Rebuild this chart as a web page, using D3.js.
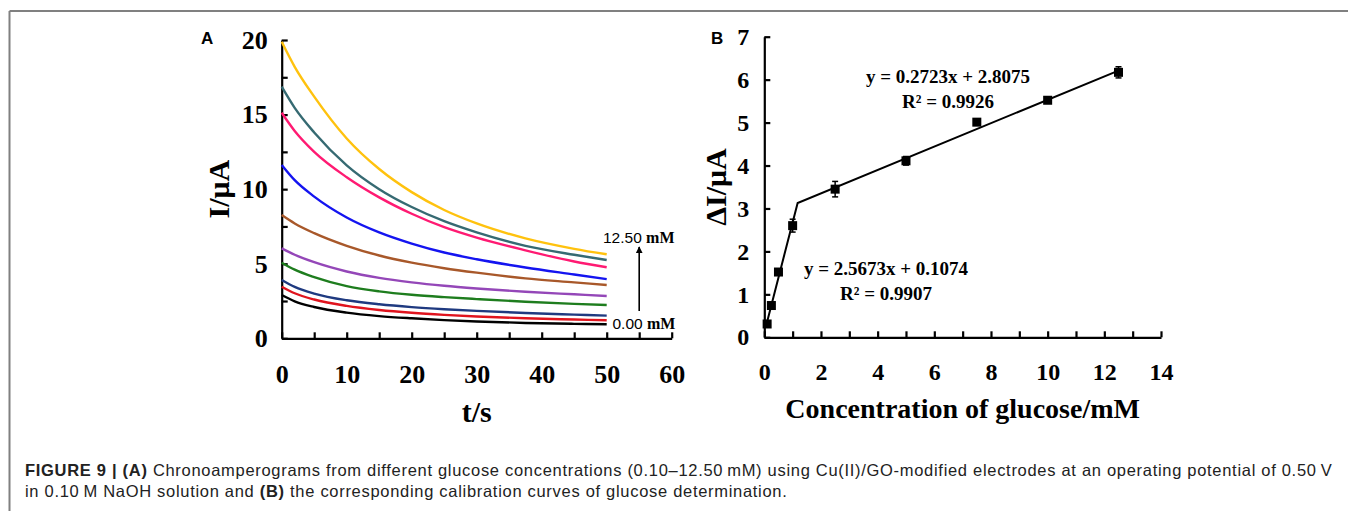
<!DOCTYPE html>
<html>
<head>
<meta charset="utf-8">
<script src="https://cdn.jsdelivr.net/npm/d3@7"></script>
<style>
  html, body { margin: 0; padding: 0; background: #fff; }
  svg { display: block; }
  .serif { font-family: "Liberation Serif", "Times New Roman", serif; font-weight: bold; }
  .sans { font-family: "Liberation Sans", Arial, sans-serif; }
</style>
</head>
<body>
<svg id="fig" width="1348" height="511"></svg>
<script>
// ---- Panel A: chronoamperograms (time in s, current in µA) ----
const timeA = [0, 2, 5, 10, 15, 20, 25, 30, 37.5, 45, 50];
const curve0_00 = [2.90, 2.48, 2.10, 1.72, 1.49, 1.34, 1.22, 1.13, 1.03, 0.97, 0.94];
const curve0_10 = [3.46, 3.02, 2.60, 2.17, 1.90, 1.71, 1.57, 1.46, 1.34, 1.26, 1.21];
const curve0_25 = [3.91, 3.45, 3.00, 2.55, 2.28, 2.09, 1.95, 1.84, 1.70, 1.59, 1.52];
const curve0_50 = [5.07, 4.60, 4.10, 3.50, 3.15, 2.92, 2.76, 2.63, 2.45, 2.31, 2.23];
const curve1_00 = [6.03, 5.60, 5.10, 4.48, 4.05, 3.75, 3.52, 3.34, 3.12, 2.95, 2.84];
const curve2_50 = [8.26, 7.70, 7.05, 6.20, 5.55, 5.07, 4.70, 4.40, 4.02, 3.75, 3.57];
const curve5_00 = [11.62, 10.60, 9.50, 8.10, 7.10, 6.35, 5.75, 5.30, 4.75, 4.28, 3.97];
const curve7_50 = [15.12, 13.90, 12.50, 10.80, 9.45, 8.35, 7.45, 6.75, 5.90, 5.15, 4.76];
const curve10_0 = [16.87, 15.45, 13.80, 11.60, 10.00, 8.80, 7.85, 7.10, 6.20, 5.60, 5.25];
const curve12_5 = [19.88, 18.20, 16.20, 13.40, 11.35, 9.80, 8.60, 7.70, 6.70, 6.00, 5.63];
const curvesA = [curve0_00, curve0_10, curve0_25, curve0_50, curve1_00,
                 curve2_50, curve5_00, curve7_50, curve10_0, curve12_5];
const coloursA = ["#000000", "#e0141e", "#1f3a80", "#1e7d1e", "#9447b8",
                  "#a8582a", "#1414f0", "#ff1a72", "#366a72", "#ffc20e"];
const xTicksA = [0, 5, 10, 15, 20, 25, 30, 35, 40, 45, 50, 55, 60];
const yTicksA = [0, 2.5, 5, 7.5, 10, 12.5, 15, 17.5, 20];

// ---- Panel B: calibration (glucose mM vs ΔI µA) ----
const concB = [0.1, 0.25, 0.5, 1.0, 2.5, 5.0, 7.5, 10.0, 12.5];
const deltaIB = [0.31, 0.74, 1.52, 2.60, 3.45, 4.11, 5.01, 5.52, 6.17];
const errB = [0.05, 0.05, 0.06, 0.15, 0.18, 0.10, 0.03, 0.06, 0.13];
const fitLow = { slope: 2.5673, intercept: 0.1074, r2: "0.9907" };
const fitHigh = { slope: 0.2723, intercept: 2.8075, r2: "0.9926" };
const xTicksB = d3.range(0, 15, 1);
const yTicksB = d3.range(0, 8, 1);

const svg = d3.select("#fig");

// outer frame (top and left rules)
svg.append("line").attr("x1", 9.5).attr("y1", 11).attr("x2", 1348).attr("y2", 11)
  .attr("stroke", "#808080").attr("stroke-width", 2);
svg.append("line").attr("x1", 9.5).attr("y1", 11).attr("x2", 9.5).attr("y2", 511)
  .attr("stroke", "#808080").attr("stroke-width", 2);

function styleAxis(g, fontSize) {
  g.select(".domain").attr("stroke", "#000").attr("stroke-width", 2.2);
  g.selectAll(".tick line").attr("stroke", "#000").attr("stroke-width", 2.2);
  g.selectAll(".tick text").attr("class", "serif").attr("fill", "#000")
    .style("font-size", fontSize + "px");
  g.attr("font-family", null).attr("font-size", null);
}

// ===== Panel A =====
const xA = d3.scaleLinear().domain([0, 60]).range([281.7, 671.7]);
const yA = d3.scaleLinear().domain([0, 20]).range([338.3, 40]);

const gxA = svg.append("g").attr("transform", `translate(0,${yA(0)})`)
  .call(d3.axisBottom(xA).tickValues(xTicksA).tickSizeInner(-6).tickSizeOuter(0)
    .tickPadding(26).tickFormat(d => d % 10 === 0 ? d : ""));
styleAxis(gxA, 26);
gxA.selectAll(".tick text").attr("dy", "0.71em");

const gyA = svg.append("g").attr("transform", `translate(${xA(0)},0)`)
  .call(d3.axisLeft(yA).tickValues(yTicksA).tickSizeInner(-6).tickSizeOuter(0)
    .tickPadding(14).tickFormat(d => d % 5 === 0 ? d : ""));
styleAxis(gyA, 26);

const lineA = d3.line().x(d => xA(d[0])).y(d => yA(d[1])).curve(d3.curveMonotoneX);
curvesA.forEach((vals, i) => {
  svg.append("path")
    .datum(timeA.map((t, j) => [t, vals[j]]))
    .attr("d", lineA)
    .attr("fill", "none")
    .attr("stroke", coloursA[i])
    .attr("stroke-width", 2.4);
});

svg.append("text").attr("class", "serif").attr("x", (xA(0) + xA(60)) / 2).attr("y", 422)
  .attr("text-anchor", "middle").style("font-size", "30px").text("t/s");
svg.append("text").attr("class", "serif")
  .attr("transform", `translate(229,${(yA(0) + yA(20)) / 2}) rotate(-90)`)
  .attr("text-anchor", "middle").style("font-size", "30px").text("I/μA");

// concentration annotations and arrow
const annHi = svg.append("text").attr("x", 603).attr("y", 242.5).style("font-size", "15.5px");
annHi.append("tspan").attr("class", "sans").text("12.50 ");
annHi.append("tspan").attr("class", "serif").style("font-size", "16px").text("mM");
const annLo = svg.append("text").attr("x", 612.5).attr("y", 328.5).style("font-size", "15.5px");
annLo.append("tspan").attr("class", "sans").text("0.00 ");
annLo.append("tspan").attr("class", "serif").style("font-size", "16px").text("mM");

svg.append("defs").append("marker").attr("id", "arrowHead")
  .attr("viewBox", "0 0 10 10").attr("refX", 9).attr("refY", 5)
  .attr("markerWidth", 7).attr("markerHeight", 7).attr("markerUnits", "userSpaceOnUse")
  .attr("orient", "auto")
  .append("path").attr("d", "M0,0 L10,5 L0,10 z").attr("fill", "#000");
svg.append("line").attr("x1", xA(55)).attr("x2", xA(55)).attr("y1", 311).attr("y2", 247)
  .attr("stroke", "#000").attr("stroke-width", 1.6).attr("marker-end", "url(#arrowHead)");

svg.append("text").attr("class", "sans").attr("x", 201).attr("y", 44)
  .style("font-size", "17px").style("font-weight", "bold").text("A");

// ===== Panel B =====
const xB = d3.scaleLinear().domain([0, 14]).range([764.3, 1161]);
const yB = d3.scaleLinear().domain([0, 7]).range([337.3, 36.7]);

const gxB = svg.append("g").attr("transform", `translate(0,${yB(0)})`)
  .call(d3.axisBottom(xB).tickValues(xTicksB).tickSizeInner(-6).tickSizeOuter(0)
    .tickPadding(26).tickFormat(d => d % 2 === 0 ? d : ""));
styleAxis(gxB, 24);
gxB.selectAll(".tick text").attr("dy", "0.71em");

const gyB = svg.append("g").attr("transform", `translate(${xB(0)},0)`)
  .call(d3.axisLeft(yB).tickValues(yTicksB).tickSizeInner(-6).tickSizeOuter(0)
    .tickPadding(15).tickFormat(d3.format("d")));
styleAxis(gyB, 24);

// piecewise linear fits, meeting where the two lines intersect
const xKnee = (fitHigh.intercept - fitLow.intercept) / (fitLow.slope - fitHigh.slope);
const fitPts = [
  [concB[0], fitLow.slope * concB[0] + fitLow.intercept],
  [xKnee, fitLow.slope * xKnee + fitLow.intercept],
  [concB[concB.length - 1], fitHigh.slope * concB[concB.length - 1] + fitHigh.intercept]
];
svg.append("path").datum(fitPts)
  .attr("d", d3.line().x(d => xB(d[0])).y(d => yB(d[1])))
  .attr("fill", "none").attr("stroke", "#000").attr("stroke-width", 2);

// error bars and square markers
const ptsB = concB.map((c, i) => ({ c, v: deltaIB[i], e: errB[i] }));
const eb = svg.append("g");
ptsB.forEach(p => {
  eb.append("line").attr("x1", xB(p.c)).attr("x2", xB(p.c))
    .attr("y1", yB(p.v - p.e)).attr("y2", yB(p.v + p.e))
    .attr("stroke", "#000").attr("stroke-width", 1.5);
  [p.v - p.e, p.v + p.e].forEach(v => {
    eb.append("line").attr("x1", xB(p.c) - 3).attr("x2", xB(p.c) + 3)
      .attr("y1", yB(v)).attr("y2", yB(v)).attr("stroke", "#000").attr("stroke-width", 1.5);
  });
});
svg.append("g").selectAll("rect").data(ptsB).join("rect")
  .attr("x", d => xB(d.c) - 4.5).attr("y", d => yB(d.v) - 4.5)
  .attr("width", 9).attr("height", 9).attr("fill", "#000");

// regression equations
function equation(cx, yTop, fit) {
  svg.append("text").attr("class", "serif").attr("x", cx).attr("y", yTop)
    .attr("text-anchor", "middle").style("font-size", "19px")
    .text(`y = ${fit.slope.toFixed(4)}x + ${fit.intercept.toFixed(4)}`);
  svg.append("text").attr("class", "serif").attr("x", cx).attr("y", yTop + 25)
    .attr("text-anchor", "middle").style("font-size", "19px")
    .text(`R² = ${fit.r2}`);
}
equation(948, 83, fitHigh);
equation(886, 275, fitLow);

svg.append("text").attr("class", "serif").attr("x", (xB(0) + xB(14)) / 2).attr("y", 418)
  .attr("text-anchor", "middle").style("font-size", "28px").text("Concentration of glucose/mM");
svg.append("text").attr("class", "serif")
  .attr("transform", `translate(726,${(yB(0) + yB(7)) / 2}) rotate(-90)`)
  .attr("text-anchor", "middle").style("font-size", "30px").text("ΔI/μA");

svg.append("text").attr("class", "sans").attr("x", 711).attr("y", 43.5)
  .style("font-size", "17px").style("font-weight", "bold").text("B");

// ===== Caption =====
const capStyle = sel => sel.attr("class", "sans").style("font-size", "16.5px")
  .style("letter-spacing", "0.7px").attr("fill", "#222");
const cap1 = svg.append("text").attr("x", 25).attr("y", 476).call(capStyle);
cap1.append("tspan").style("font-weight", "bold").text("FIGURE 9 | (A)");
cap1.append("tspan").text(" Chronoamperograms from different glucose concentrations (0.10–12.50\u2009mM) using Cu(II)/GO-modified electrodes at an operating potential of 0.50\u2009V");
const cap2 = svg.append("text").attr("x", 25).attr("y", 497).call(capStyle);
cap2.append("tspan").text("in 0.10\u2009M NaOH solution and ");
cap2.append("tspan").style("font-weight", "bold").text("(B)");
cap2.append("tspan").text(" the corresponding calibration curves of glucose determination.");
</script>
</body>
</html>
